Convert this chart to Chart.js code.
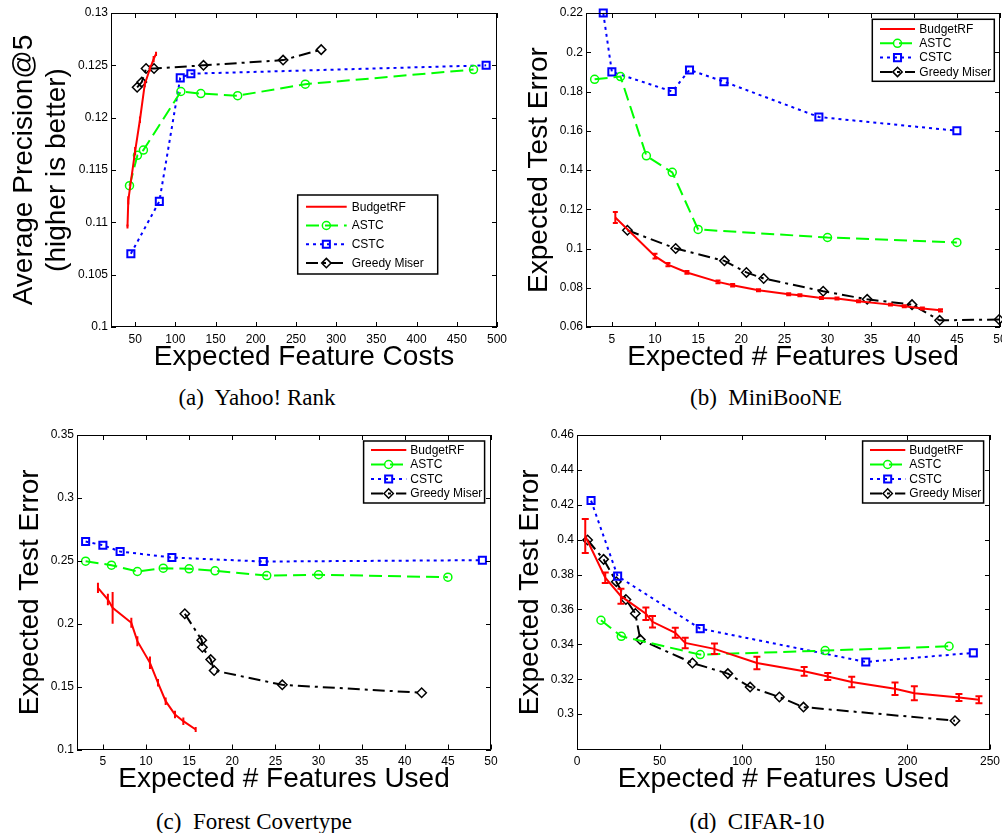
<!DOCTYPE html>
<html>
<head>
<meta charset="utf-8">
<script src="https://cdn.jsdelivr.net/npm/chart.js@4.4.1/dist/chart.umd.min.js"></script>
<style>
  body { margin: 0; background: #fff; width: 1002px; height: 833px; position: relative; overflow: hidden; }
  .panel { position: absolute; }
  .cap { position: absolute; font-family: 'Liberation Serif', 'Times New Roman', serif; font-size: 23px;
         line-height: 23px; white-space: pre; transform: translateX(-50%); color: #000; }
</style>
</head>
<body>
<div class="panel" style="left:0;top:0;width:515px;height:374px"><canvas id="chartA"></canvas></div>
<div class="panel" style="left:505px;top:0;width:497px;height:374px"><canvas id="chartB"></canvas></div>
<div class="panel" style="left:0;top:420px;width:500px;height:376px"><canvas id="chartC"></canvas></div>
<div class="panel" style="left:505px;top:420px;width:497px;height:376px"><canvas id="chartD"></canvas></div>
<div class="cap" style="left:257px;top:386px">(a)  Yahoo! Rank</div>
<div class="cap" style="left:766px;top:386px">(b)  MiniBooNE</div>
<div class="cap" style="left:254px;top:810px">(c)  Forest Covertype</div>
<div class="cap" style="left:757px;top:810px">(d)  CIFAR-10</div>
<script>
// ---- data ----
const seriesNames = ['BudgetRF', 'ASTC', 'CSTC', 'Greedy Miser'];

// (a) Yahoo! Rank
const yahooBudgetX = [40.5, 41.5, 50, 56, 62, 68.5, 73, 76];
const yahooBudgetY = [0.1096, 0.1121, 0.1168, 0.1198, 0.1232, 0.1247, 0.1256, 0.1261];
const yahooBudgetErr = [0.0002, 0.0004, 0.0004, 0.0003, 0.0003, 0.0003, 0.0003, 0.0002];
const yahooAstcX = [43, 52.9, 60.3, 106.9, 131.7, 177.5, 261.6, 470.8];
const yahooAstcY = [0.1135, 0.1164, 0.1169, 0.1225, 0.1223, 0.1221, 0.1232, 0.1246];
const yahooCstcX = [44.7, 80.1, 106.1, 119.3, 486.5];
const yahooCstcY = [0.107, 0.112, 0.1238, 0.1242, 0.125];
const yahooGreedyX = [52.5, 58.3, 63.6, 73.5, 135, 234, 281.4];
const yahooGreedyY = [0.1229, 0.1234, 0.1247, 0.1247, 0.1250, 0.1255, 0.1265];
const yahooXTicks = [50, 100, 150, 200, 250, 300, 350, 400, 450, 500];
const yahooYTicks = [0.1, 0.105, 0.11, 0.115, 0.12, 0.125, 0.13];

// (b) MiniBooNE
const mbBudgetX = [5.4, 10.0, 11.5, 13.7, 17.3, 19.0, 22.0, 25.5, 26.8, 29.3, 31.1, 33.6, 37.3, 38.9, 41.0, 43.1];
const mbBudgetY = [0.1158, 0.0961, 0.0918, 0.0878, 0.083, 0.0813, 0.0787, 0.0767, 0.0762, 0.0748, 0.0745, 0.0731, 0.0714, 0.0706, 0.0694, 0.0685];
const mbBudgetErr = [0.0028, 0.0012, 0.0008, 0.0007, 0.0007, 0.0006, 0.0005, 0.0005, 0.0005, 0.0005, 0.0005, 0.0005, 0.0005, 0.0005, 0.0005, 0.0006];
const mbAstcX = [3, 6, 9, 12, 15, 30, 45];
const mbAstcY = [0.1862, 0.1876, 0.1472, 0.1388, 0.1097, 0.1056, 0.1031];
const mbCstcX = [4, 5, 12, 14, 18, 29, 45];
const mbCstcY = [0.22, 0.19, 0.18, 0.191, 0.185, 0.167, 0.16];
const mbGreedyX = [6.8, 12.4, 18.05, 20.6, 22.6, 29.5, 34.6, 39.8, 43.0, 49.9];
const mbGreedyY = [0.1093, 0.1, 0.0937, 0.0878, 0.0847, 0.0782, 0.0741, 0.0714, 0.0634, 0.0638];
const mbXTicks = [5, 10, 15, 20, 25, 30, 35, 40, 45, 50];
const mbYTicks = [0.06, 0.08, 0.1, 0.12, 0.14, 0.16, 0.18, 0.2, 0.22];

// (c) Forest Covertype
const fcBudgetX = [4.43, 5.58, 6.13, 8.3, 9.0, 10.46, 11.39, 12.28, 13.36, 14.33, 15.76];
const fcBudgetY = [0.2285, 0.2192, 0.2126, 0.2007, 0.1861, 0.1689, 0.1530, 0.1384, 0.1278, 0.1225, 0.1159];
const fcBudgetErr = [0.004, 0.0046, 0.0126, 0.004, 0.004, 0.005, 0.003, 0.003, 0.003, 0.003, 0.002];
const fcAstcX = [3, 6, 9, 12, 15, 18, 24, 30, 45];
const fcAstcY = [0.2497, 0.2465, 0.2415, 0.2441, 0.2436, 0.242, 0.2383, 0.2389, 0.237];
const fcCstcX = [3, 5, 7, 13, 23.6, 49];
const fcCstcY = [0.2653, 0.2624, 0.2574, 0.2526, 0.2494, 0.2505];
const fcGreedyX = [14.5, 16.46, 16.54, 17.5, 17.9, 25.8, 41.96];
const fcGreedyY = [0.2079, 0.1869, 0.1813, 0.1715, 0.1628, 0.1514, 0.1451];
const fcXTicks = [5, 10, 15, 20, 25, 30, 35, 40, 45, 50];
const fcYTicks = [0.1, 0.15, 0.2, 0.25, 0.3, 0.35];

// (d) CIFAR-10
const cfBudgetX = [5, 17.1, 26.6, 41.7, 45.7, 59.5, 65.5, 83.2, 108.9, 137.5, 151.8, 166.3, 192.5, 204.2, 231.2, 243.3];
const cfBudgetY = [0.4021, 0.3782, 0.3676, 0.3575, 0.3529, 0.3466, 0.3408, 0.3374, 0.3293, 0.3245, 0.3216, 0.3184, 0.3145, 0.312, 0.3095, 0.3082];
const cfBudgetErr = [0.0098, 0.003, 0.0043, 0.0036, 0.0033, 0.0029, 0.003, 0.003, 0.0036, 0.0025, 0.002, 0.003, 0.0036, 0.004, 0.002, 0.002];
const cfAstcX = [14.5, 26.8, 74.6, 150.2, 225.2];
const cfAstcY = [0.3538, 0.3446, 0.3341, 0.3364, 0.3389];
const cfCstcX = [8.5, 24.6, 74.6, 174.8, 239.9];
const cfCstcY = [0.4224, 0.3791, 0.349, 0.3299, 0.3351];
const cfGreedyX = [6.4, 16.1, 23.8, 29.6, 35.3, 38.3, 69.9, 91.3, 104.8, 122.5, 137.1, 228.8];
const cfGreedyY = [0.3998, 0.3887, 0.3759, 0.3657, 0.3577, 0.3427, 0.3293, 0.3232, 0.3155, 0.3098, 0.304, 0.2962];
const cfXTicks = [0, 50, 100, 150, 200, 250];
const cfYTicks = [0.3, 0.32, 0.34, 0.36, 0.38, 0.4, 0.42, 0.44, 0.46];

// ---- styles ----
const FONT = "'Liberation Sans', Arial, Helvetica, sans-serif";
const seriesStyle = [
  { borderColor: '#ff0000', borderDash: [], pointStyle: 'circle', pointRadius: 0, pointBorderWidth: 0 },
  { borderColor: '#00ff00', borderDash: [13, 6], pointStyle: 'circle', pointRadius: 4, pointBorderWidth: 1.5 },
  { borderColor: '#0000ff', borderDash: [3, 4], pointStyle: 'rect', pointRadius: 5, pointBorderWidth: 2 },
  { borderColor: '#000000', borderDash: [12, 5, 3, 5], pointStyle: 'rectRot', pointRadius: 4.7, pointBorderWidth: 1.5 }
];

function drawMarker(ctx, style, x, y, r) {
  ctx.beginPath();
  if (style === 'circle') ctx.arc(x, y, r, 0, Math.PI * 2);
  else if (style === 'rect') { const s = r * Math.SQRT1_2; ctx.rect(x - s, y - s, 2 * s, 2 * s); }
  else { ctx.moveTo(x - r, y); ctx.lineTo(x, y - r); ctx.lineTo(x + r, y); ctx.lineTo(x, y + r); ctx.closePath(); }
  ctx.stroke();
}

// box + inward tick marks on all four sides (matlab look)
const frameTicks = {
  id: 'frameTicks',
  afterDatasetsDraw(chart) {
    const { ctx, chartArea: a, scales: { x, y } } = chart;
    const len = 5;
    ctx.save();
    ctx.strokeStyle = '#000';
    ctx.lineWidth = 1;
    ctx.setLineDash([]);
    ctx.strokeRect(Math.round(a.left) + 0.5, Math.round(a.top) + 0.5, Math.round(a.width) - 1, Math.round(a.height) - 1);
    ctx.beginPath();
    x.ticks.forEach(t => {
      const px = Math.round(x.getPixelForValue(t.value)) + 0.5;
      ctx.moveTo(px, a.bottom); ctx.lineTo(px, a.bottom - len);
      ctx.moveTo(px, a.top); ctx.lineTo(px, a.top + len);
    });
    y.ticks.forEach(t => {
      const py = Math.round(y.getPixelForValue(t.value)) + 0.5;
      ctx.moveTo(a.left, py); ctx.lineTo(a.left + len, py);
      ctx.moveTo(a.right, py); ctx.lineTo(a.right - len, py);
    });
    ctx.stroke();
    ctx.restore();
  }
};

// vertical error bars for datasets that carry an "errors" array
const errorBars = {
  id: 'errorBars',
  afterDatasetsDraw(chart, args, opts) {
    const { ctx, scales: { y } } = chart;
    ctx.save();
    chart.data.datasets.forEach((ds, i) => {
      if (!ds.errors) return;
      const meta = chart.getDatasetMeta(i);
      ctx.strokeStyle = ds.borderColor;
      ctx.lineWidth = 2;
      ctx.setLineDash([]);
      ctx.beginPath();
      meta.data.forEach((pt, k) => {
        const v = ds.data[k].y, e = ds.errors[k];
        const top = y.getPixelForValue(v + e), bot = y.getPixelForValue(v - e);
        ctx.moveTo(pt.x, top); ctx.lineTo(pt.x, bot);
        if (opts.cap) {
          ctx.moveTo(pt.x - opts.cap, top); ctx.lineTo(pt.x + opts.cap, top);
          ctx.moveTo(pt.x - opts.cap, bot); ctx.lineTo(pt.x + opts.cap, bot);
        }
      });
      ctx.stroke();
    });
    ctx.restore();
  }
};

// legend box inside the plot area
const boxLegend = {
  id: 'boxLegend',
  afterDraw(chart, args, o) {
    const { ctx, chartArea: a } = chart;
    const bx = o.anchor === 'left' ? a.left + o.dx : a.right - o.dx - o.w;
    const by = a.top + o.dy;
    ctx.save();
    ctx.fillStyle = '#fff';
    ctx.fillRect(bx, by, o.w, o.h);
    ctx.strokeStyle = '#000';
    ctx.lineWidth = 1.5;
    ctx.setLineDash([]);
    ctx.strokeRect(bx, by, o.w, o.h);
    chart.data.datasets.forEach((ds, i) => {
      const ry = by + o.first + i * o.row;
      ctx.strokeStyle = ds.borderColor;
      ctx.lineWidth = 2;
      ctx.setLineDash(ds.borderDash);
      ctx.beginPath();
      ctx.moveTo(bx + o.ls, ry); ctx.lineTo(bx + o.le, ry);
      ctx.stroke();
      ctx.setLineDash([]);
      if (ds.pointRadius > 0) {
        ctx.lineWidth = ds.pointBorderWidth;
        drawMarker(ctx, ds.pointStyle, bx + (o.ls + o.le) / 2, ry, ds.pointRadius);
      }
      ctx.fillStyle = '#000';
      ctx.font = '12px ' + FONT;
      ctx.textBaseline = 'middle';
      ctx.textAlign = 'left';
      ctx.fillText(ds.label, bx + o.tx, ry + 0.5);
    });
    ctx.restore();
  }
};

function makeChart(id, cfg) {
  const datasets = cfg.series.map((s, i) => ({
    label: seriesNames[i],
    data: s[0].map((v, k) => ({ x: v, y: s[1][k] })),
    errors: s[2],
    ...seriesStyle[i],
    borderWidth: 2,
    tension: 0,
    fill: false,
    clip: false,
    pointBorderColor: seriesStyle[i].borderColor,
    pointBackgroundColor: 'rgba(0,0,0,0)',
    pointHoverRadius: seriesStyle[i].pointRadius
  }));
  const tickFont = { family: FONT, size: 12 };
  const titleFont = { family: FONT, size: 28, lineHeight: 1.2 };
  return new Chart(document.getElementById(id), {
    type: 'line',
    data: { datasets },
    plugins: [frameTicks, errorBars, boxLegend],
    options: {
      responsive: true,
      maintainAspectRatio: false,
      animation: false,
      events: [],
      layout: { padding: cfg.pad, autoPadding: false },
      plugins: {
        legend: { display: false },
        tooltip: { enabled: false },
        errorBars: { cap: cfg.cap },
        boxLegend: cfg.legend
      },
      scales: {
        x: {
          type: 'linear', min: cfg.xRange[0], max: cfg.xRange[1],
          afterBuildTicks: s => { s.ticks = cfg.xTicks.map(v => ({ value: v })); },
          afterFit: s => { s.height = cfg.xh; s.paddingLeft = 0; s.paddingRight = 0; s.paddingTop = 0; s.paddingBottom = 0; },
          grid: { display: false, drawTicks: false },
          border: { display: false },
          ticks: { padding: 5, color: '#000', font: tickFont, maxRotation: 0, autoSkip: false, callback: v => String(v) },
          title: { display: true, text: cfg.xTitle, color: '#000', font: titleFont, padding: 0 }
        },
        y: {
          type: 'linear', min: cfg.yRange[0], max: cfg.yRange[1],
          afterBuildTicks: s => { s.ticks = cfg.yTicks.map(v => ({ value: v })); },
          afterFit: s => { s.width = cfg.yw; s.paddingLeft = 0; s.paddingRight = 0; s.paddingTop = 0; s.paddingBottom = 0; },
          grid: { display: false, drawTicks: false },
          border: { display: false },
          ticks: { padding: 3, color: '#000', font: tickFont, autoSkip: false, callback: v => String(v) },
          title: { display: true, text: cfg.yTitle, color: '#000', font: titleFont, padding: 0 }
        }
      }
    }
  });
}

makeChart('chartA', {
  series: [[yahooBudgetX, yahooBudgetY, yahooBudgetErr], [yahooAstcX, yahooAstcY], [yahooCstcX, yahooCstcY], [yahooGreedyX, yahooGreedyY]],
  xRange: [20, 500], yRange: [0.1, 0.13], xTicks: yahooXTicks, yTicks: yahooYTicks,
  xTitle: 'Expected Feature Costs', yTitle: ['Average Precision@5', '(higher is better)'],
  pad: { left: 7, top: 13, right: 18, bottom: 0 }, yw: 104, xh: 47, cap: 0,
  legend: { anchor: 'left', dx: 186.7, dy: 182, w: 140, h: 79, first: 11.7, row: 18.8, ls: 8.3, le: 49, tx: 54 }
});

makeChart('chartB', {
  series: [[mbBudgetX, mbBudgetY, mbBudgetErr], [mbAstcX, mbAstcY], [mbCstcX, mbCstcY], [mbGreedyX, mbGreedyY]],
  xRange: [2, 50], yRange: [0.06, 0.22], xTicks: mbXTicks, yTicks: mbYTicks,
  xTitle: 'Expected # Features Used', yTitle: 'Expected Test Error',
  pad: { left: 17, top: 13, right: 2, bottom: 0 }, yw: 64, xh: 47, cap: 2.5,
  legend: { anchor: 'right', dx: 5.7, dy: 6.3, w: 122, h: 62, first: 9.7, row: 14.3, ls: 7.7, le: 42.7, tx: 47 }
});

makeChart('chartC', {
  series: [[fcBudgetX, fcBudgetY, fcBudgetErr], [fcAstcX, fcAstcY], [fcCstcX, fcCstcY], [fcGreedyX, fcGreedyY]],
  xRange: [2, 50], yRange: [0.1, 0.35], xTicks: fcXTicks, yTicks: fcYTicks,
  xTitle: 'Expected # Features Used', yTitle: 'Expected Test Error',
  pad: { left: 13, top: 15, right: 9, bottom: 0 }, yw: 64, xh: 46.5, cap: 0,
  legend: { anchor: 'right', dx: 6.4, dy: 6, w: 121, h: 62, first: 9, row: 14.5, ls: 7.4, le: 42.7, tx: 46.7 }
});

makeChart('chartD', {
  series: [[cfBudgetX, cfBudgetY, cfBudgetErr], [cfAstcX, cfAstcY], [cfCstcX, cfCstcY], [cfGreedyX, cfGreedyY]],
  xRange: [0, 250], yRange: [0.2797, 0.46], xTicks: cfXTicks, yTicks: cfYTicks,
  xTitle: 'Expected # Features Used', yTitle: 'Expected Test Error',
  pad: { left: 8, top: 15, right: 12, bottom: 0 }, yw: 64, xh: 46.5, cap: 3.5,
  legend: { anchor: 'right', dx: 6.4, dy: 6, w: 121, h: 62, first: 9, row: 14.5, ls: 7.4, le: 42.7, tx: 46.7 }
});
</script>
</body>
</html>
